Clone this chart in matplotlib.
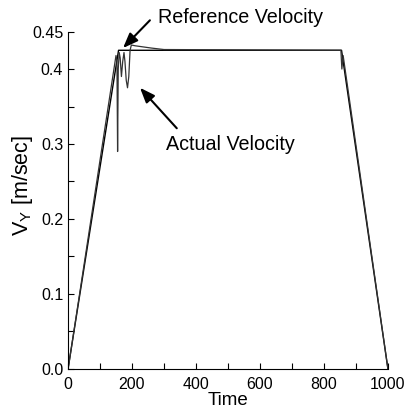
import matplotlib
matplotlib.use('Agg')
import matplotlib.pyplot as plt

plt.rcParams['font.family'] = ['Liberation Sans', 'DejaVu Sans']
plt.rcParams['mathtext.fontset'] = 'custom'
plt.rcParams['mathtext.rm'] = 'Liberation Sans'

# reference velocity (trapezoid)
t_ref = [0, 158, 855, 1000]
v_ref = [0.0, 0.425, 0.425, 0.0]

# actual velocity
t_act = [0, 4, 150, 153, 155, 157, 160, 163, 167, 171, 175, 178, 182, 186, 190, 194,
         198, 210, 260, 300, 853, 856, 860, 1000]
v_act = [0.0, 0.01, 0.418, 0.41, 0.29, 0.40, 0.422, 0.415, 0.39, 0.41, 0.422, 0.41,
         0.385, 0.375, 0.39, 0.425, 0.432, 0.431, 0.428, 0.426, 0.425, 0.40, 0.418, 0.0]

xticks = [0, 100, 200, 300, 400, 500, 600, 700, 800, 900, 1000]
xlabels = ['0', '', '200', '', '400', '', '600', '', '800', '', '1000']
yticks = [0.0, 0.05, 0.1, 0.15, 0.2, 0.25, 0.3, 0.35, 0.4, 0.45]
ylabels = ['0.0', '', '0.1', '', '0.2', '', '0.3', '', '0.4', '0.45']

fig = plt.figure(figsize=(4.06, 4.15), dpi=100)
ax = fig.add_axes([0.1675, 0.111, 0.788, 0.813])

ax.plot(t_ref, v_ref, color='black', lw=1.0)
ax.plot(t_act, v_act, color='#333333', lw=0.9)

ax.set_xlim(0, 1000)
ax.set_ylim(0, 0.45)
ax.set_xticks(xticks)
ax.set_xticklabels(xlabels)
ax.set_yticks(yticks)
ax.set_yticklabels(ylabels)
ax.tick_params(direction='in', length=4, width=0.8, labelsize=11.5)
ax.tick_params(axis='x', pad=6)
for s in ['top', 'right']:
    ax.spines[s].set_visible(False)

ax.set_xlabel('Time', fontsize=13.5, labelpad=0)
fig.text(0.055, 0.552, r'V$_\mathrm{Y}$ [m/sec]', fontsize=15.5, rotation=90,
         ha='center', va='center')

arrow = dict(arrowstyle='-|>,head_length=0.9,head_width=0.35',
             color='black', lw=1.5, shrinkA=0, shrinkB=0)

ax.text(280, 0.469, 'Reference Velocity', fontsize=14.2, ha='left', va='center',
        clip_on=False)
ax.annotate('', xy=(172, 0.428), xytext=(256, 0.465), annotation_clip=False,
            arrowprops=arrow)
ax.text(306, 0.299, 'Actual Velocity', fontsize=14.2, ha='left', va='center')
ax.annotate('', xy=(225, 0.375), xytext=(340, 0.321), arrowprops=arrow)

fig.savefig('out.png', dpi=100)
